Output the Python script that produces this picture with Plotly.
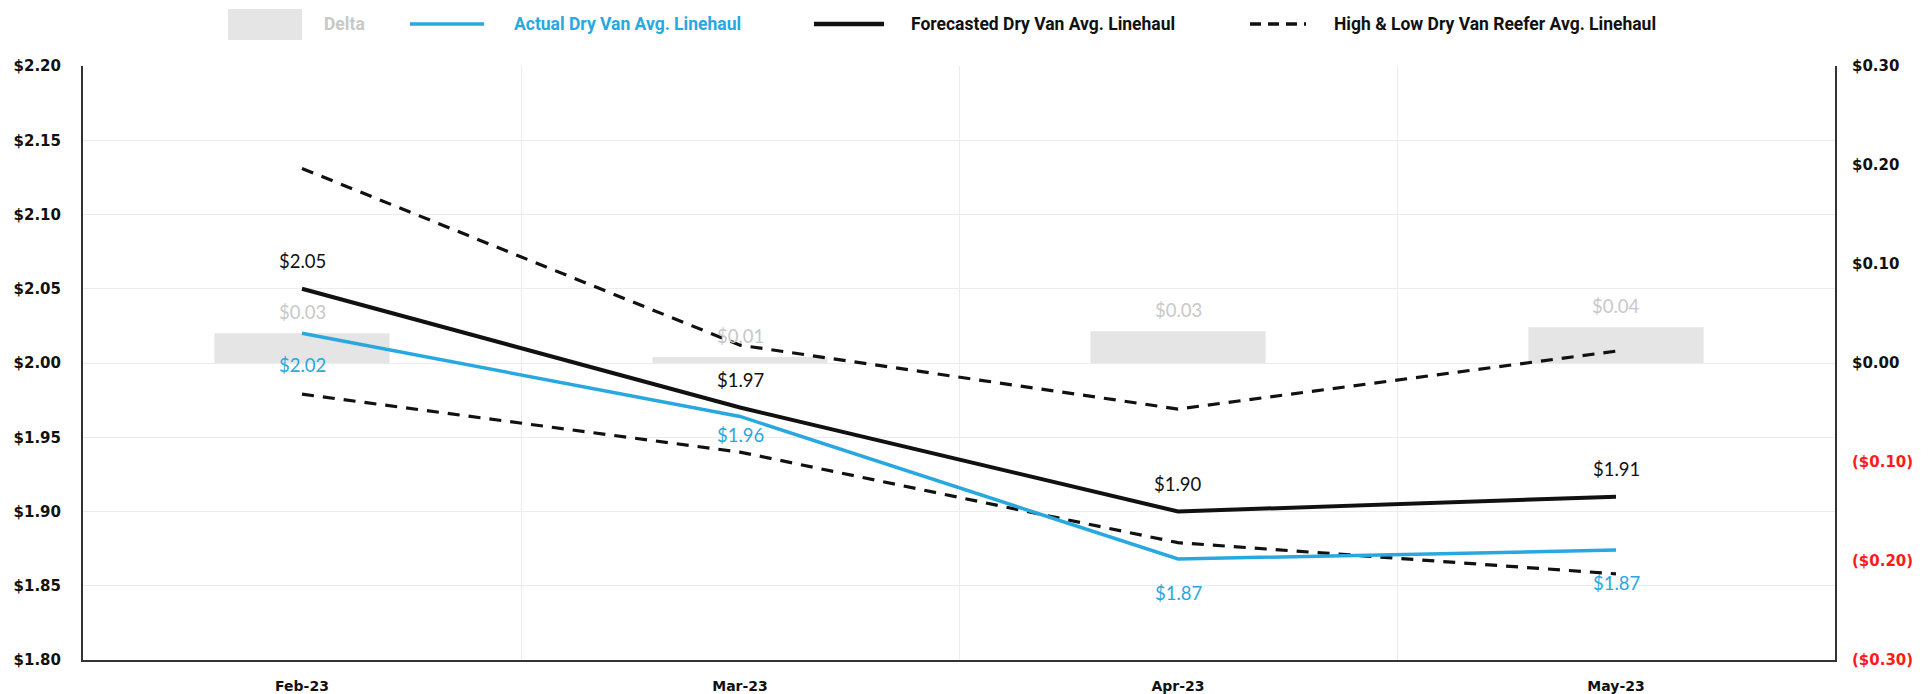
import plotly.graph_objects as go

# Monthly dry van linehaul rates ($/mile)
months = ["Feb-23", "Mar-23", "Apr-23", "May-23"]
forecast = [2.05, 1.97, 1.90, 1.91]
actual = [2.02, 1.964, 1.868, 1.874]
high_band = [2.131, 2.012, 1.969, 2.008]
low_band = [1.979, 1.940, 1.879, 1.858]
delta = [round(f - a, 3) for f, a in zip(forecast, actual)]

left_ticks = [1.80, 1.85, 1.90, 1.95, 2.00, 2.05, 2.10, 2.15, 2.20]
right_ticks = [-0.30, -0.20, -0.10, 0.00, 0.10, 0.20, 0.30]

BLUE = "#29a8e0"
BLACK = "#111111"
GRAY_BAR = "#e5e5e5"
GRAY_TXT = "#c8c8c8"
RED = "#ff1a1a"

W, H = 1931, 694
ML, MR, MT, MB = 83, 96, 66, 34
PW, PH = W - ML - MR, H - MT - MB


def px_x(px):
    return (px - ML) / PW


def px_y(py):
    return (H - MB - py) / PH


def money_paren(v):
    if v < 0:
        return f"<span style='color:{RED}'>(${abs(v):.2f})</span>"
    return f"${v:.2f}"


fig = go.Figure()

# Delta bars on the right-hand axis
fig.add_trace(go.Bar(
    x=months, y=delta, yaxis="y", width=0.4,
    marker=dict(color=GRAY_BAR, line=dict(width=0)),
    showlegend=False, hoverinfo="skip",
))

dash_style = "12px,9px"
fig.add_trace(go.Scatter(x=months, y=high_band, yaxis="y2", mode="lines",
                         line=dict(color=BLACK, width=3.2, dash=dash_style),
                         showlegend=False))
fig.add_trace(go.Scatter(x=months, y=low_band, yaxis="y2", mode="lines",
                         line=dict(color=BLACK, width=3.2, dash=dash_style),
                         showlegend=False))
fig.add_trace(go.Scatter(x=months, y=actual, yaxis="y2", mode="lines",
                         line=dict(color=BLUE, width=3.5), showlegend=False))
fig.add_trace(go.Scatter(x=months, y=forecast, yaxis="y2", mode="lines",
                         line=dict(color=BLACK, width=4), showlegend=False))

annotations = []
label_font = "Lato, Roboto, sans-serif"
LABEL_SIZE = 18.5
for m, v in zip(months, forecast):
    annotations.append(dict(x=m, y=v, xref="x", yref="y2", text=f"${v:.2f}",
                            showarrow=False, yshift=28,
                            font=dict(family=label_font, size=LABEL_SIZE, color=BLACK)))
actual_dy = [-32, -19, -34, -33]
for m, v, dy in zip(months, actual, actual_dy):
    annotations.append(dict(x=m, y=v, xref="x", yref="y2", text=f"${v:.2f}",
                            showarrow=False, yshift=dy,
                            font=dict(family=label_font, size=LABEL_SIZE, color=BLUE)))
for m, v in zip(months, delta):
    annotations.append(dict(x=m, y=v, xref="x", yref="y", text=f"${v:.2f}",
                            showarrow=False, yshift=21,
                            font=dict(family=label_font, size=LABEL_SIZE, color=GRAY_TXT)))

# Legend row
leg_y = px_y(24)
leg_font = dict(family="Roboto, sans-serif", size=17.5, weight="bold")
shapes = [
    dict(type="rect", xref="paper", yref="paper",
         x0=px_x(228), x1=px_x(302), y0=px_y(40), y1=px_y(9),
         fillcolor=GRAY_BAR, line=dict(width=0)),
    dict(type="line", xref="paper", yref="paper",
         x0=px_x(410), x1=px_x(484), y0=leg_y, y1=leg_y,
         line=dict(color=BLUE, width=3.5)),
    dict(type="line", xref="paper", yref="paper",
         x0=px_x(814), x1=px_x(884), y0=leg_y, y1=leg_y,
         line=dict(color=BLACK, width=4.5)),
    dict(type="line", xref="paper", yref="paper",
         x0=px_x(1250), x1=px_x(1306), y0=leg_y, y1=leg_y,
         line=dict(color=BLACK, width=3.5, dash="11px,7px")),
]
legend_items = [
    (322, "Delta", GRAY_TXT),
    (512, "Actual Dry Van Avg. Linehaul", BLUE),
    (909, "Forecasted Dry Van Avg. Linehaul", BLACK),
    (1332, "High &amp; Low Dry Van Reefer Avg. Linehaul", BLACK),
]
for px, txt, col in legend_items:
    annotations.append(dict(x=px_x(px), y=leg_y, xref="paper", yref="paper",
                            xanchor="left", yanchor="middle", text=txt,
                            showarrow=False, font=dict(leg_font, color=col)))

x_tick_font = dict(family="DejaVu Sans, sans-serif", size=14, color=BLACK, weight="bold")
y_tick_font = dict(family="DejaVu Sans, sans-serif", size=15, color=BLACK, weight="bold")

fig.update_layout(
    width=W, height=H,
    margin=dict(l=ML, r=MR, t=MT, b=MB, pad=0, autoexpand=False),
    plot_bgcolor="white", paper_bgcolor="white",
    showlegend=False,
    xaxis=dict(
        type="category", tickson="boundaries", ticks="", automargin=False,
        showgrid=True, gridcolor="#ececec", gridwidth=1,
        showline=True, linecolor="#333333", linewidth=2,
        tickfont=x_tick_font, ticklabelstandoff=12,
        range=[-0.5, 3.5],
    ),
    yaxis=dict(
        side="right", range=[-0.3, 0.3], tickvals=right_ticks,
        ticktext=[money_paren(v) for v in right_ticks], automargin=False,
        showgrid=False, zeroline=False,
        showline=True, linecolor="#333333", linewidth=2,
        tickfont=y_tick_font, ticklabelstandoff=12, ticks="",
    ),
    yaxis2=dict(
        side="left", overlaying="y", range=[1.80, 2.20], tickvals=left_ticks,
        tickformat="$.2f", showgrid=True, gridcolor="#ececec", gridwidth=1,
        zeroline=False, showline=True, linecolor="#333333", linewidth=2,
        tickfont=y_tick_font, ticklabelstandoff=17, ticks="", automargin=False,
    ),
    annotations=annotations,
    shapes=shapes,
)

fig.write_html("out.html")
